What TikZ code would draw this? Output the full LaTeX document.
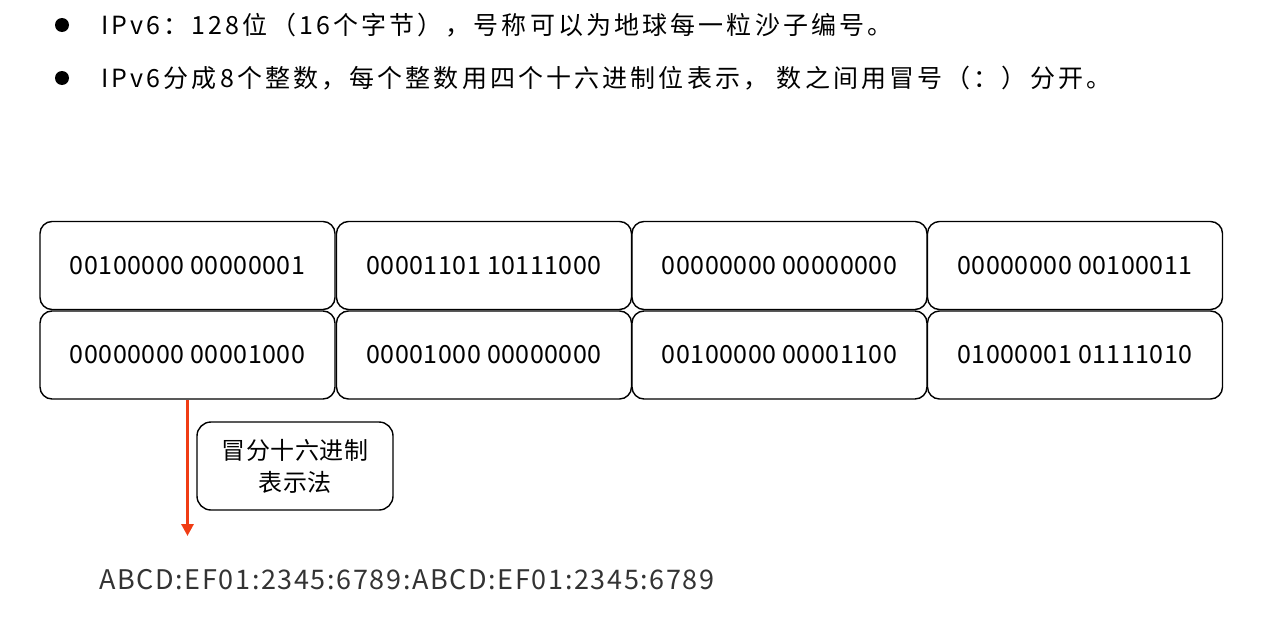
\documentclass[tikz,border=0pt]{standalone}
\usepackage{fontspec}
\setmainfont{Noto Sans CJK SC}
\usetikzlibrary{arrows.meta}
\definecolor{arrowred}{HTML}{F03C14}
\definecolor{txtgray}{HTML}{333333}
\tikzset{
  cell/.style={draw=black, line width=1.4pt, rounded corners=12pt, minimum width=295pt, minimum height=88pt, inner sep=0pt, font=\fontsize{25pt}{28pt}\selectfont\addfontfeature{LetterSpace=2}},
  notebox/.style={draw=black, line width=1.4pt, rounded corners=14pt, minimum width=196pt, minimum height=88pt, inner sep=0pt, align=center, font=\fontsize{24pt}{32pt}\selectfont\addfontfeature{LetterSpace=2.5}},
  bullettext/.style={anchor=west, inner sep=0pt, font=\fontsize{25pt}{28pt}\selectfont\addfontfeature{LetterSpace=12.5}},
  dot/.style={circle, fill=black, minimum size=14pt, inner sep=0pt}
}
\begin{document}
\begin{tikzpicture}[x=1pt, y=-1pt]
\useasboundingbox (0,0) rectangle (1266,621);
\node[dot] (b1) at (62,25) {};
\node[dot] (b2) at (62,78) {};
\node[bullettext] (t1) at (101,25) {IPv6：128位（16个字节），号称可以为地球每一粒沙子编号。};
\node[bullettext] (t2) at (101,78) {IPv6分成8个整数，每个整数用四个十六进制位表示， 数之间用冒号（：）分开。};

\node[cell] (c11) at (187.5,265.5) {00100000 00000001};
\node[cell] (c12) at (484,265.5) {00001101 10111000};
\node[cell] (c13) at (779.5,265.5) {00000000 00000000};
\node[cell] (c14) at (1075,265.5) {00000000 00100011};
\node[cell] (c21) at (187.5,355) {00000000 00001000};
\node[cell] (c22) at (484,355) {00001000 00000000};
\node[cell] (c23) at (779.5,355) {00100000 00001100};
\node[cell] (c24) at (1075,355) {01000001 01111010};

\node[notebox] (note) at (295,466) {冒分十六进制\\表示法};

\coordinate (tip) at (187.5,536);
\draw[arrowred, line width=3pt, -{Triangle[length=12pt,width=12pt]}] (c21.south) -- (tip);

\node[anchor=west, inner sep=0pt, text=txtgray, font=\fontsize{27pt}{30pt}\selectfont\addfontfeature{LetterSpace=6}] (addr) at (99,580) {ABCD:EF01:2345:6789:ABCD:EF01:2345:6789};
\end{tikzpicture}
\end{document}
